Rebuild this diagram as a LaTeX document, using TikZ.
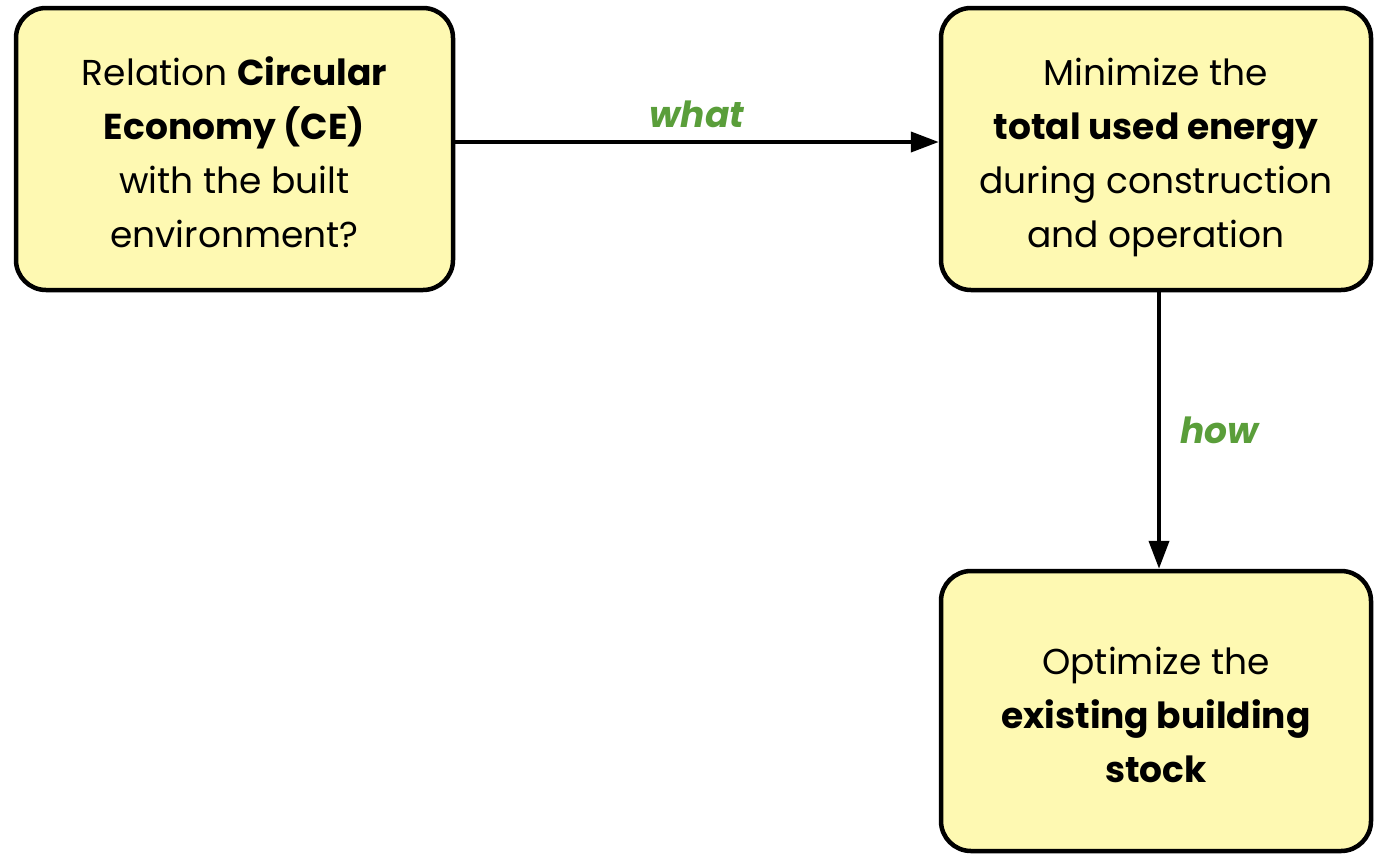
\documentclass[tikz,border=0pt]{standalone}
\usepackage{fontspec}
\setmainfont{Poppins}
\usetikzlibrary{arrows.meta}
\definecolor{boxfill}{HTML}{FEF9B2}
\definecolor{lblgreen}{HTML}{5A9E3A}
\newcommand{\cardtext}[1]{\raisebox{-7pt}[\height][\depth]{\begin{tabular}{@{}c@{}}#1\end{tabular}}}
\tikzset{
  card/.style={draw=black, line width=4.5pt, fill=boxfill, rounded corners=30pt,
    align=center, font=\fontsize{36}{54}\selectfont, inner sep=0pt},
  flow/.style={line width=4pt, -{Triangle[length=28pt,width=20pt]}},
  lbl/.style={text=lblgreen, font=\fontsize{36}{40}\selectfont\bfseries\itshape}
}
\begin{document}
\begin{tikzpicture}[x=1pt,y=-1pt]
\useasboundingbox (0,0) rectangle (1374,855);
\node[card, minimum width=437pt, minimum height=282pt] (ce) at (234.5,149)
  {\cardtext{Relation \textbf{Circular}\\\textbf{Economy (CE)}\\with the built\\environment?}};
\node[card, minimum width=430pt, minimum height=282pt] (energy) at (1156,149)
  {\cardtext{Minimize the\\\textbf{total used energy}\\during construction\\and operation}};
\node[card, minimum width=430pt, minimum height=280pt] (stock) at (1156,711)
  {\cardtext{Optimize the\\\textbf{existing building}\\\textbf{stock}}};
\coordinate (a1) at (ce.east |- 0,142);
\coordinate (a2) at (energy.west |- 0,142);
\draw[flow] (a1) -- node[lbl, above=9pt] {what} (a2);
\coordinate (b1) at (1159,0);
\draw[flow] (energy.south -| b1) -- node[lbl, right=16pt] {how} (stock.north -| b1);
\end{tikzpicture}
\end{document}
